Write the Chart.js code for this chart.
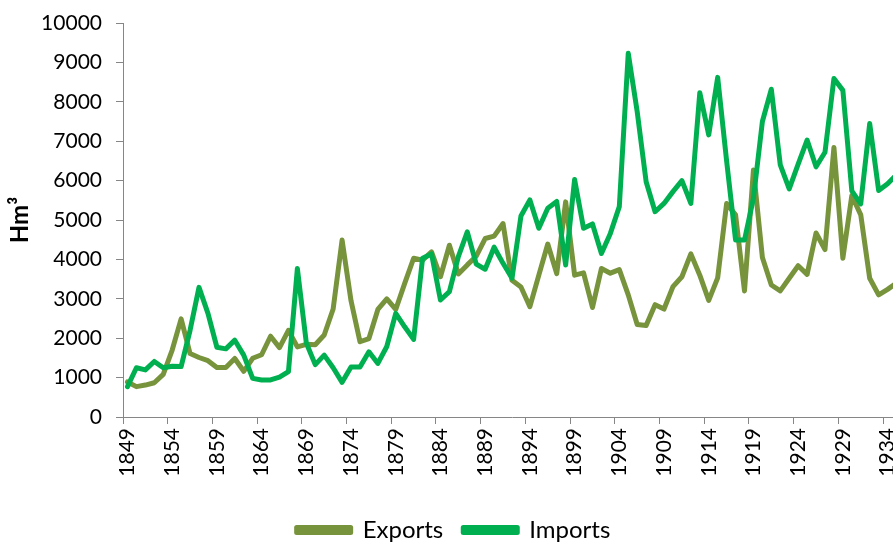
<!DOCTYPE html>
<html>
<head>
<meta charset="utf-8">
<title>Exports and imports</title>
<script src="https://cdn.jsdelivr.net/npm/chart.js@4.4.1/dist/chart.umd.min.js"></script>
<style>
    body { margin: 0; background: #fff; }
    #wrap { width: 893px; height: 542px; overflow: hidden; }
</style>
</head>
<body>
<div id="wrap"><canvas id="canvas1" width="905" height="542"></canvas></div>
<script>
// Exports / imports, Hm3, 1849-1935

var years = [];
for (var y = 1849; y <= 1935; y++) years.push(String(y));

var dataExports = [
    890, 770, 810, 870, 1080, 1700, 2490, 1610, 1510, 1430,
    1255, 1255, 1485, 1160, 1490, 1580, 2050, 1760, 2200, 1780,
    1845, 1835, 2080, 2740, 4490, 2950, 1910, 1990, 2730, 3000,
    2730, 3390, 4030, 3980, 4190, 3560, 4360, 3630, 3860, 4080,
    4530, 4590, 4910, 3470, 3300, 2800, 3600, 4390, 3640, 5460,
    3600, 3660, 2780, 3770, 3650, 3740, 3100, 2350, 2320, 2850,
    2740, 3310, 3560, 4140, 3600, 2960, 3530, 5420, 5130, 3200,
    6270, 4050, 3350, 3200, 3520, 3840, 3620, 4670, 4250, 6840,
    4030, 5620, 5130, 3520, 3100, 3240, 3400
];

var dataImports = [
    770, 1250, 1195, 1410, 1250, 1290, 1280, 2200, 3290, 2630,
    1770, 1730, 1950, 1570, 980, 940, 940, 1010, 1150, 3770,
    1880, 1330, 1570, 1250, 880, 1270, 1270, 1655, 1360, 1790,
    2630, 2290, 1970, 4030, 4140, 2970, 3180, 4070, 4700, 3880,
    3750, 4310, 3900, 3520, 5100, 5510, 4790, 5300, 5470, 3860,
    6030, 4790, 4900, 4150, 4660, 5340, 9230, 7750, 5970, 5210,
    5420, 5720, 6000, 5420, 8230, 7160, 8620, 6500, 4490, 4490,
    5550, 7500, 8320, 6400, 5790, 6420, 7030, 6350, 6720, 8590,
    8290, 5740, 5410, 7450, 5750, 5920, 6150
];

var yTicks = [0, 1000, 2000, 3000, 4000, 5000, 6000, 7000, 8000, 9000, 10000];

var axisGrey = '#868686';
var fontName = 'Lato';

var ctx1 = document.getElementById('canvas1').getContext('2d');
window.myLine = new Chart(ctx1, {
    type: 'line',
    data: {
        labels: years,
        datasets: [{
            label: 'Exports',
            data: dataExports,
            borderColor: '#77933C',
            backgroundColor: '#77933C',
            borderWidth: 5,
            borderJoinStyle: 'round',
            borderCapStyle: 'round',
            pointRadius: 0,
            tension: 0,
            order: 1
        }, {
            label: 'Imports',
            data: dataImports,
            borderColor: '#00B050',
            backgroundColor: '#00B050',
            borderWidth: 5,
            borderJoinStyle: 'round',
            borderCapStyle: 'round',
            pointRadius: 0,
            tension: 0,
            order: 0
        }]
    },
    options: {
        responsive: false,
        animation: false,
        layout: {
            padding: { top: 23, left: 6, right: 4, bottom: -10 }
        },
        plugins: {
            legend: {
                position: 'bottom',
                labels: {
                    color: '#000',
                    font: { family: fontName, size: 24 },
                    boxWidth: 54,
                    boxHeight: 5,
                    padding: 20,
                    sort: function (a, b) { return a.datasetIndex - b.datasetIndex; }
                }
            },
            tooltip: { enabled: false }
        },
        scales: {
            x: {
                offset: true,
                afterFit: function (scale) {
                    scale.paddingRight = 0;
                    scale.height = 81;
                },
                border: { display: true, color: axisGrey, width: 1 },
                grid: {
                    offset: true,
                    drawOnChartArea: false,
                    drawTicks: true,
                    tickLength: 7,
                    color: function (c) {
                        return (c.index % 5 === 0) ? axisGrey : 'rgba(0,0,0,0)';
                    }
                },
                ticks: {
                    autoSkip: false,
                    maxRotation: 90,
                    minRotation: 90,
                    padding: 4,
                    color: '#000',
                    font: { family: fontName, size: 21 },
                    callback: function (val, index) {
                        return (index % 5 === 0) ? this.getLabelForValue(val) : '';
                    }
                }
            },
            y: {
                min: 0,
                max: 10000,
                afterBuildTicks: function (scale) {
                    scale.ticks = yTicks.map(function (v) { return { value: v }; });
                },
                afterFit: function (scale) {
                    scale.width = 117;
                    scale.paddingTop = 0;
                },
                border: { display: true, color: axisGrey, width: 1 },
                grid: {
                    drawOnChartArea: false,
                    drawTicks: true,
                    tickLength: 7,
                    color: axisGrey
                },
                ticks: {
                    padding: 14,
                    color: '#000',
                    font: { family: fontName, size: 21 },
                    callback: function (v) { return String(v); }
                },
                title: {
                    display: true,
                    text: 'Hm³',
                    color: '#000',
                    font: { family: fontName, size: 24, weight: 'bold' },
                    padding: { top: 0, bottom: 6 }
                }
            }
        }
    }
});
</script>
</body>
</html>
